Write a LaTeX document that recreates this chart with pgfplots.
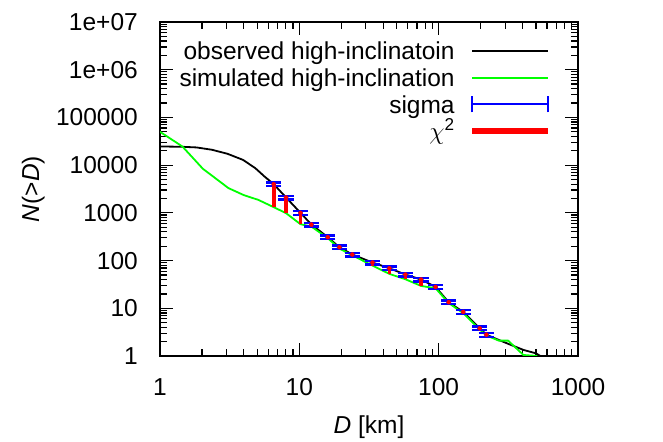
\documentclass[border=0pt]{standalone}
\usepackage{pgfplots}
\pgfplotsset{compat=1.18}
\usepackage{fontspec}
\setmainfont{Liberation Sans}
\definecolor{gpgreen}{RGB}{0,255,0}
\definecolor{gpblue}{RGB}{0,0,255}
\definecolor{gpred}{RGB}{255,0,0}
\newcommand\fs{\fontsize{24.5bp}{30bp}\selectfont}
\newcommand\fsl{\fontsize{24.5bp}{30bp}\selectfont}
\begin{document}
\begin{tikzpicture}
\useasboundingbox (0,0) rectangle (663bp,442bp);
\begin{axis}[
  at={(160bp,86bp)}, anchor=south west,
  width=418bp, height=334bp, scale only axis,
  xmode=log, ymode=log,
  xmin=1, xmax=1000, ymin=1, ymax=1e7,
  xtick={1,10,100,1000}, xticklabels={1,10,100,1000},
  ytick={1,10,100,1000,10000,100000,1000000,10000000},
  yticklabels={1,10,100,1000,10000,100000,1e+06,1e+07},
  minor xtick={2,3,4,5,6,7,8,9,20,30,40,50,60,70,80,90,200,300,400,500,600,700,800,900},
  minor ytick={2,3,4,5,6,7,8,9,20,30,40,50,60,70,80,90,200,300,400,500,600,700,800,900,
    2e3,3e3,4e3,5e3,6e3,7e3,8e3,9e3,2e4,3e4,4e4,5e4,6e4,7e4,8e4,9e4,
    2e5,3e5,4e5,5e5,6e5,7e5,8e5,9e5,2e6,3e6,4e6,5e6,6e6,7e6,8e6,9e6},
  tick align=inside,
  major tick length=13bp, minor tick length=7bp,
  tick style={black, line width=1.2bp},
  axis line style={line width=1.5bp},
  xticklabel style={anchor=north, inner sep=0pt, yshift=-22bp, font=\fs},
  yticklabel style={anchor=east, inner sep=0pt, xshift=-22bp, font=\fs},
  every axis y label/.style={at={(axis description cs:-0.303,0.5)}, anchor=center, rotate=90, font=\fs},
  every axis x label/.style={at={(axis description cs:0.5,-0.212)}, anchor=center, font=\fs},
  xlabel={\textit{D} [km]},
  ylabel={\textit{N}(>\textit{D})},
  legend style={draw=none, fill=none, at={(axis description cs:0.935,0.947)}, anchor=north east,
    inner sep=0pt, outer sep=0pt, row sep=4.2bp, column sep=15bp,
    font=\fsl, nodes={inner sep=0pt, text height=20bp, text depth=2.5bp}},
  legend cell align=right,
  legend plot pos=right,
]
\addplot[black, line width=1.8bp,
  legend image code/.code={\draw[black,line width=1.8bp] (0bp,0bp)--(76bp,0bp);}]
  table[x=x, y=y] {
x y
1.00 24600
1.42 24300
1.83 23500
2.36 21000
3.05 17300
3.94 12900
4.83 8650
5.62 5790
6.55 3990
8.03 2100
10.2 1000
12.2 570
16.0 309
19.4 190
24.0 134
33.5 91
44.3 69
57.7 51
74.8 40
95 28
118 13.4
150 8.4
197 3.8
220 2.8
270 2.17
331 1.70
406 1.34
498 1.14
537 1.0
};
\addlegendentry{observed high-inclinatoin}
\addplot[gpgreen, line width=1.8bp,
  legend image code/.code={\draw[gpgreen,line width=1.8bp] (0bp,0bp)--(76bp,0bp);}]
  table[x=x, y=y] {
x y
1.00 50000
1.45 24500
2.03 8400
3.1 3300
4.0 2350
5.08 1870
6.55 1315
8.03 984
10.2 578
12.2 517
16.0 295
19.4 178
24.0 129
33.5 78.5
44.3 52.5
57.7 40.6
74.8 29.4
95 26.3
118 12.9
150 7.9
197 3.6
220 2.7
270 2.1
315 2.1
406 1.05
510 1.0
};
\addlegendentry{simulated high-inclination}
\addplot[gpblue, only marks, mark=none,
  legend image code/.code={\draw[gpblue,line width=1.8bp] (0bp,0bp)--(76bp,0bp);
    \draw[gpblue,line width=1.8bp] (0bp,-8bp)--(0bp,8bp);
    \draw[gpblue,line width=1.8bp] (76bp,-8bp)--(76bp,8bp);},
  error bars/.cd, y dir=both, y fixed relative=0.09,
  error bar style={gpblue, line width=2bp},
  error mark options={rotate=90, draw=gpblue, mark size=7.7bp, line width=2.2bp}]
  table[x=x, y=obs] {
x obs em
6.55 3990 2675
8.03 2100 1116
10.2 1000 422
12.2 570 53
16.0 309 18
19.4 190 12
24.0 134 7
33.5 91 12.5
44.3 69 16.5
57.7 51 10.4
74.8 40 10.6
95 28 1.7
118 13.4 0.7
150 8.4 0.5
197 3.8 0.2
220 2.8 0.15
};
\addlegendentry{sigma}
\addplot[gpred, only marks, mark=none,
  legend image code/.code={\draw[gpred,line width=5.2bp] (0bp,0bp)--(76bp,0bp);},
  error bars/.cd, y dir=minus, y explicit, error mark=none,
  error bar style={gpred, line width=3.7bp}]
  table[x=x, y=obs, y error minus=em] {
x obs em
6.55 3990 2675
8.03 2100 1116
10.2 1000 422
12.2 570 53
16.0 309 18
19.4 190 12
24.0 134 7
33.5 91 12.5
44.3 69 16.5
57.7 51 10.4
74.8 40 10.6
95 28 1.7
118 13.4 0.7
150 8.4 0.5
197 3.8 0.2
220 2.8 0.15
};
\addlegendentry{$\chi$\textsuperscript{2}}
\end{axis}
\end{tikzpicture}
\end{document}
